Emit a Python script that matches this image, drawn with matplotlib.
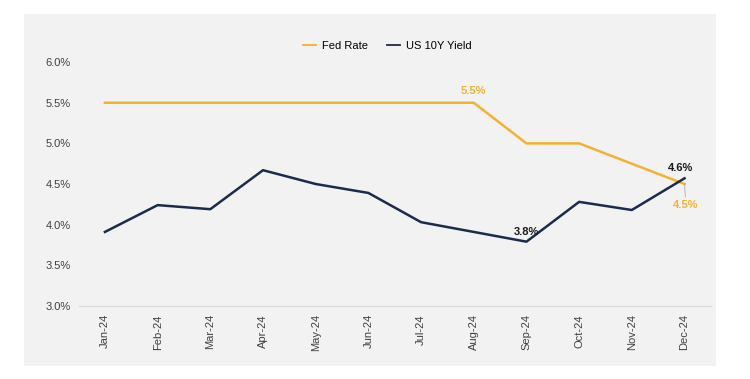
import matplotlib.pyplot as plt
from matplotlib.patches import Rectangle

plt.rcParams['font.family'] = ['Liberation Sans', 'DejaVu Sans']

# -------- DATA --------
months = ["Jan-24", "Feb-24", "Mar-24", "Apr-24", "May-24", "Jun-24",
          "Jul-24", "Aug-24", "Sep-24", "Oct-24", "Nov-24", "Dec-24"]
fed_rate = [5.5, 5.5, 5.5, 5.5, 5.5, 5.5, 5.5, 5.5, 5.0, 5.0, 4.75, 4.5]
us10y = [3.91, 4.24, 4.19, 4.67, 4.50, 4.39, 4.03, 3.91, 3.79, 4.28, 4.18, 4.57]
y_ticks = [3.0, 3.5, 4.0, 4.5, 5.0, 5.5, 6.0]

orange = "#F2B233"
navy = "#1C2B4B"
bg = "#F2F2F2"

# -------- FIGURE --------
fig = plt.figure(figsize=(7.5, 3.79), dpi=100)
fig.add_artist(Rectangle((0.032, 0.034), 0.923, 0.929, transform=fig.transFigure,
                         facecolor=bg, edgecolor="none", zorder=-10))
ax = fig.add_axes([0.1048, 0.193, 0.843, 0.643])
ax.set_facecolor("none")

x = range(len(months))
ax.plot(x, fed_rate, color=orange, lw=1.8, label="Fed Rate")
ax.plot(x, us10y, color=navy, lw=1.8, label="US 10Y Yield")

ax.set_xlim(-0.5, len(months) - 0.5)
ax.set_ylim(3.0, 6.0)
ax.set_yticks(y_ticks)
ax.set_yticklabels([f"{v:.1f}%" for v in y_ticks])
ax.set_xticks(list(x))
ax.set_xticklabels(months, rotation=90)
ax.tick_params(length=0, labelsize=8, colors="#404040", pad=6)
ax.tick_params(axis="y", pad=24)
for lbl in ax.get_yticklabels():
    lbl.set_horizontalalignment("left")

for s in ["top", "right", "left"]:
    ax.spines[s].set_visible(False)
ax.spines["bottom"].set_color("#DADADA")
ax.spines["bottom"].set_linewidth(0.8)

# -------- DATA LABELS --------
lab = dict(fontsize=8, fontweight="bold", ha="center")
ax.annotate(f"{fed_rate[7]:.1f}%", (7, fed_rate[7]), xytext=(0, 6), textcoords="offset points",
            color=orange, **lab)
ax.annotate(f"{us10y[8]:.1f}%", (8, us10y[8]), xytext=(0, 5), textcoords="offset points",
            color="#1a1a1a", **lab)
ax.annotate(f"{us10y[11]:.1f}%", (11, us10y[11]), xytext=(-3, 5), textcoords="offset points",
            color="#1a1a1a", **lab)
ax.annotate(f"{fed_rate[11]:.1f}%", (11, fed_rate[11]), xytext=(1, -17), textcoords="offset points",
            color=orange, arrowprops=dict(arrowstyle="-", color="#AAAAAA", lw=0.6,
                                          shrinkA=0, shrinkB=0), **lab)

leg = ax.legend(loc="lower center", bbox_to_anchor=(0.488, 1.005), ncol=2, frameon=False,
                fontsize=8, handlelength=1.2, columnspacing=1.7, handletextpad=0.5)
for h in leg.get_lines():
    h.set_linewidth(1.3)

fig.savefig("out.png", dpi=100, facecolor="white")
